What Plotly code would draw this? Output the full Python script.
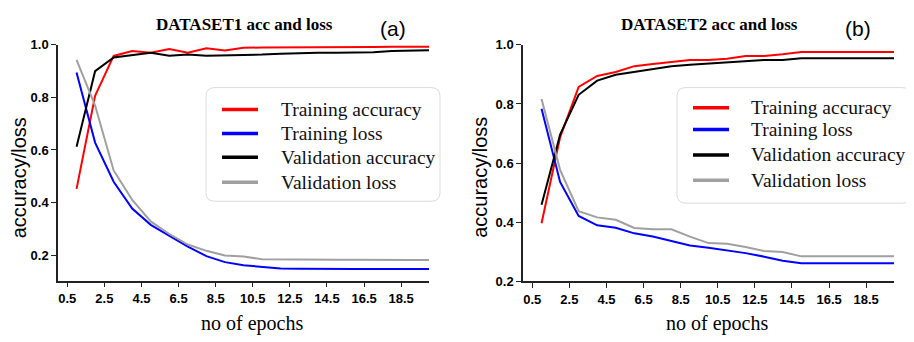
import plotly.graph_objects as go

# The page body has an 8px default margin, so the figure is drawn 8px smaller
# and all page-pixel positions are shifted by that offset.
OFF = 8
W, H = 914 - OFF, 342 - OFF

epochs = list(range(1, 21))
names = ["Training accuracy", "Training loss", "Validation accuracy", "Validation loss"]
colors = ["#ff0000", "#0000ff", "#000000", "#a0a0a0"]

d1_train_acc = [0.452, 0.806, 0.958, 0.977, 0.970, 0.984, 0.970, 0.987, 0.979, 0.989,
                0.990, 0.990, 0.991, 0.991, 0.992, 0.992, 0.992, 0.993, 0.993, 0.993]
d1_train_loss = [0.895, 0.628, 0.479, 0.377, 0.315, 0.275, 0.232, 0.196, 0.173, 0.161,
                 0.154, 0.149, 0.148, 0.147, 0.147, 0.147, 0.147, 0.147, 0.147, 0.147]
d1_val_acc = [0.612, 0.900, 0.952, 0.961, 0.970, 0.959, 0.963, 0.959, 0.960, 0.961,
              0.963, 0.966, 0.969, 0.970, 0.970, 0.971, 0.972, 0.977, 0.979, 0.980]
d1_val_loss = [0.943, 0.769, 0.522, 0.410, 0.328, 0.280, 0.240, 0.216, 0.198, 0.194,
               0.184, 0.183, 0.183, 0.182, 0.182, 0.182, 0.181, 0.181, 0.181, 0.181]

d2_train_acc = [0.396, 0.687, 0.858, 0.895, 0.908, 0.928, 0.935, 0.942, 0.949, 0.949,
                0.953, 0.962, 0.962, 0.968, 0.976, 0.976, 0.976, 0.976, 0.976, 0.976]
d2_train_loss = [0.784, 0.536, 0.421, 0.389, 0.381, 0.362, 0.351, 0.335, 0.321, 0.313,
                 0.305, 0.295, 0.283, 0.269, 0.261, 0.261, 0.261, 0.261, 0.261, 0.261]
d2_val_acc = [0.459, 0.696, 0.831, 0.879, 0.899, 0.908, 0.917, 0.928, 0.933, 0.937,
              0.942, 0.946, 0.949, 0.949, 0.955, 0.955, 0.955, 0.955, 0.955, 0.955]
d2_val_loss = [0.817, 0.577, 0.437, 0.416, 0.408, 0.380, 0.376, 0.376, 0.351, 0.329,
               0.327, 0.316, 0.302, 0.299, 0.284, 0.284, 0.284, 0.284, 0.284, 0.284]

x_ticks = [0.5, 2.5, 4.5, 6.5, 8.5, 10.5, 12.5, 14.5, 16.5, 18.5]
y_ticks = [0.2, 0.4, 0.6, 0.8, 1.0]
titles = ["DATASET1 acc and loss", "DATASET2 acc and loss"]
panel_labels = ["(a)", "(b)"]


def px(x):
    return (x - OFF) / W


def py(y):
    return 1 - (y - OFF) / H


fig = go.Figure()

panels = [
    dict(series=[d1_train_acc, d1_train_loss, d1_val_acc, d1_val_loss], xa="x", ya="y",
         xdom=[px(58), px(429)], ydom=[py(286), py(39.3)], yrange=[0.103, 1.0],
         title_x=244, label_x=393, ytitle_x=18.5, xtitle_x=252,
         legend_box=(206, 84, 440, 203), line_x=(222, 258), text_x=279,
         legend_y=[107, 132, 157, 183]),
    dict(series=[d2_train_acc, d2_train_loss, d2_val_acc, d2_val_loss], xa="x2", ya="y2",
         xdom=[px(523), px(894)], ydom=[py(286.7), py(39.3)], yrange=[0.2, 1.0],
         title_x=709, label_x=858, ytitle_x=480, xtitle_x=717,
         legend_box=(677, 84, 911, 205), line_x=(693, 729), text_x=749,
         legend_y=[105, 128, 154.5, 181]),
]

shapes = []
annotations = []

for i, p in enumerate(panels):
    for name, color, vals in zip(names, colors, p["series"]):
        fig.add_trace(go.Scatter(x=epochs, y=vals, mode="lines", name=name,
                                 line=dict(color=color, width=2),
                                 xaxis=p["xa"], yaxis=p["ya"], showlegend=False))
    ax = dict(range=[0, 20], tickvals=x_ticks, ticktext=[f"{v:.1f}" for v in x_ticks],
              ticks="outside", ticklen=5, tickwidth=1.3, tickcolor="#222",
              showline=True, linecolor="#222", linewidth=1.5, showgrid=False, zeroline=False,
              tickfont=dict(family="Liberation Sans", size=13, color="#000", weight="bold"),
              domain=p["xdom"], anchor=p["ya"])
    ay = dict(range=p["yrange"], tickvals=y_ticks, ticktext=[f"{v:.1f}" for v in y_ticks],
              ticks="outside", ticklen=5, tickwidth=1.3, tickcolor="#222",
              showline=True, linecolor="#222", linewidth=1.5, showgrid=False, zeroline=False,
              tickfont=dict(family="Liberation Sans", size=13, color="#000", weight="bold"),
              domain=p["ydom"], anchor=p["xa"])
    key = "" if i == 0 else "2"
    fig.update_layout(**{"xaxis" + key: ax, "yaxis" + key: ay})

    # titles and labels
    annotations.append(dict(text="<b>" + titles[i] + "</b>", x=px(p["title_x"]), y=py(18),
                            xref="paper", yref="paper", showarrow=False,
                            xanchor="center", yanchor="middle",
                            font=dict(family="Liberation Serif", size=17, color="#000")))
    annotations.append(dict(text=panel_labels[i], x=px(p["label_x"]), y=py(22),
                            xref="paper", yref="paper", showarrow=False,
                            xanchor="center", yanchor="middle",
                            font=dict(family="Liberation Sans", size=21, color="#000")))
    annotations.append(dict(text="accuracy/loss", x=px(p["ytitle_x"]), y=py(178.5),
                            xref="paper", yref="paper", showarrow=False, textangle=-90,
                            xanchor="center", yanchor="middle", borderpad=0,
                            font=dict(family="Liberation Sans", size=20, color="#000")))
    annotations.append(dict(text="no of epochs", x=px(p["xtitle_x"]), y=py(331),
                            xref="paper", yref="paper", showarrow=False,
                            xanchor="center", yanchor="middle",
                            font=dict(family="Liberation Serif", size=20, color="#000")))

    # legend box with rounded corners
    x0, y0, x1, y1 = p["legend_box"]
    r = 9
    rx, ry = r / W, r / H
    X0, X1 = px(x0), px(x1)
    Y0, Y1 = py(y1), py(y0)  # bottom, top in paper
    path = (f"M{X0+rx},{Y1} L{X1-rx},{Y1} Q{X1},{Y1} {X1},{Y1-ry} "
            f"L{X1},{Y0+ry} Q{X1},{Y0} {X1-rx},{Y0} L{X0+rx},{Y0} "
            f"Q{X0},{Y0} {X0},{Y0+ry} L{X0},{Y1-ry} Q{X0},{Y1} {X0+rx},{Y1} Z")
    shapes.append(dict(type="path", path=path, xref="paper", yref="paper",
                       line=dict(color="#dcdcdc", width=1), fillcolor="white", layer="above"))
    for name, color, ly in zip(names, colors, p["legend_y"]):
        shapes.append(dict(type="line", xref="paper", yref="paper",
                           x0=px(p["line_x"][0]), x1=px(p["line_x"][1]), y0=py(ly), y1=py(ly),
                           line=dict(color=color, width=3.5), layer="above"))
        annotations.append(dict(text=name, x=px(p["text_x"]), y=py(ly),
                                xref="paper", yref="paper", showarrow=False,
                                xanchor="left", yanchor="middle",
                                font=dict(family="Liberation Serif", size=19.5, color="#111")))

fig.update_layout(width=W, height=H, margin=dict(l=0, r=0, t=0, b=0),
                  paper_bgcolor="white", plot_bgcolor="white",
                  shapes=shapes, annotations=annotations, showlegend=False)

fig.write_html("out.html")
